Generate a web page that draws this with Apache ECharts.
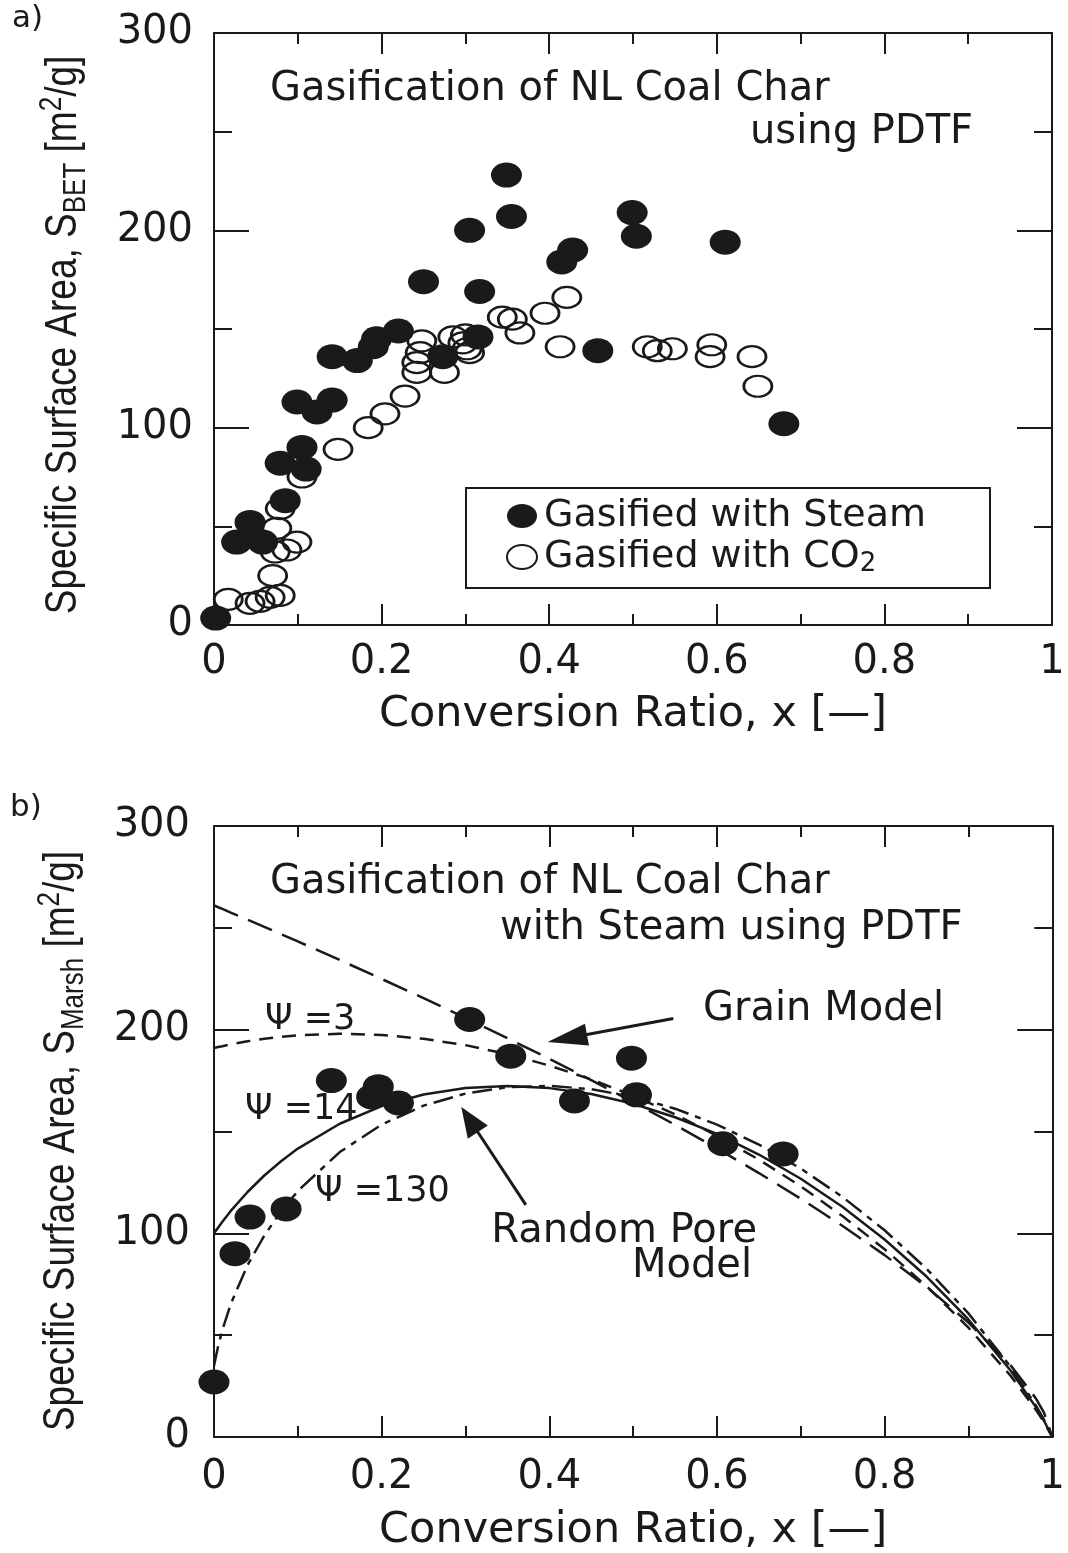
<!DOCTYPE html>
<html>
<head>
<meta charset="utf-8">
<script src="https://cdn.jsdelivr.net/npm/echarts@6/dist/echarts.min.js"></script>
<style>
  html, body { margin: 0; padding: 0; background: #ffffff; }
  #chart { width: 1068px; height: 1553px; }
</style>
</head>
<body>
<div id="chart"></div>
<script>
// ---- Panel a: BET surface area of NL coal char vs. conversion ----
const steamBET = [
  [0.002, 3.5], [0.027, 42], [0.043, 52], [0.058, 42], [0.079, 82], [0.085, 63],
  [0.099, 113], [0.105, 90], [0.11, 79], [0.123, 108], [0.141, 114], [0.141, 136],
  [0.171, 134], [0.19, 141], [0.194, 145], [0.22, 149], [0.25, 174], [0.273, 136],
  [0.305, 200], [0.315, 146], [0.317, 169], [0.349, 228], [0.355, 207], [0.415, 184],
  [0.428, 190], [0.458, 139], [0.499, 209], [0.504, 197], [0.61, 194], [0.68, 102]
];
const co2BET = [
  [0.017, 13], [0.043, 11], [0.055, 12], [0.067, 14], [0.079, 15], [0.07, 25],
  [0.073, 37], [0.087, 38], [0.099, 42], [0.075, 49], [0.079, 59], [0.105, 75],
  [0.148, 89], [0.184, 100], [0.204, 107], [0.228, 116], [0.242, 128], [0.242, 133],
  [0.246, 138], [0.248, 144], [0.275, 128], [0.285, 146], [0.297, 143], [0.302, 140],
  [0.305, 138], [0.3, 147], [0.344, 156], [0.356, 155], [0.365, 148], [0.395, 158],
  [0.421, 166], [0.413, 141], [0.517, 141], [0.529, 139], [0.547, 140], [0.594, 142],
  [0.592, 136], [0.642, 136], [0.649, 121]
];

// ---- Panel b: Marsh surface area with steam, and model curves ----
const steamMarsh = [
  [0, 27], [0.025, 90], [0.043, 108], [0.086, 112], [0.14, 175], [0.188, 167],
  [0.196, 172], [0.22, 164], [0.305, 205], [0.354, 187], [0.43, 165], [0.498, 186],
  [0.504, 168], [0.607, 144], [0.679, 139]
];
const modelX = [0, 0.005, 0.01, 0.02, 0.04, 0.06, 0.08, 0.1, 0.15, 0.2, 0.25, 0.3, 0.35,
  0.4, 0.45, 0.5, 0.55, 0.6, 0.65, 0.7, 0.75, 0.8, 0.85, 0.9, 0.95, 0.98, 0.99, 1];
const grainModel = [261, 260.1, 259.3, 257.5, 254.0, 250.5, 246.9, 243.3, 234.2, 224.9,
  215.5, 205.8, 195.8, 185.7, 175.2, 164.4, 153.3, 141.7, 129.6, 117.0, 103.6, 89.3,
  73.7, 56.2, 35.4, 19.2, 12.1, 0];
const rpmPsi3 = [191, 191.5, 191.9, 192.8, 194.3, 195.5, 196.5, 197.2, 198.0, 197.4,
  195.5, 192.4, 188.0, 182.4, 175.6, 167.6, 158.4, 147.9, 136.2, 123.1, 108.4, 92.2,
  74.1, 53.7, 30.2, 13.6, 7.4, 0];
const rpmPsi14 = [100, 102.9, 105.7, 111.0, 120.3, 128.4, 135.4, 141.6, 153.8, 162.5,
  168.2, 171.4, 172.4, 171.3, 168.4, 163.6, 157.0, 148.8, 138.7, 126.8, 112.9, 97.0,
  78.8, 57.7, 32.8, 14.9, 8.1, 0];
const rpmPsi130 = [35, 44.8, 52.6, 65.3, 84.4, 98.9, 110.8, 120.8, 139.9, 153.4,
  162.7, 168.6, 171.8, 172.4, 170.8, 167.0, 161.2, 153.4, 143.6, 131.8, 117.8, 101.5,
  82.6, 60.7, 34.6, 15.8, 8.6, 0];

// axis ranges
const xRange = [0, 1];
const xStep = 0.2;
const yRange = [0, 300];
const yStep = 100;

const INK = '#1a1a1a';
const SANS = 'DejaVu Sans';
const NARROW = 'Liberation Sans';
// stretched circle used for every data marker
const ELLIPSE = 'path://M0,10 A10,10 0 1,1 20,10 A10,10 0 1,1 0,10 Z';

function pair(xs, ys) { return xs.map((x, i) => [x, ys[i]]); }

function xAxisFor(grid, pos, labelMargin, nameGap) {
  const ax = {
    type: 'value', gridIndex: grid, position: pos,
    min: xRange[0], max: xRange[1], interval: xStep,
    axisLine: { onZero: false, lineStyle: { color: INK, width: 2 } },
    axisTick: { inside: true, length: 21, lineStyle: { color: INK, width: 2 } },
    minorTick: { show: true, splitNumber: 2, length: 11, lineStyle: { color: INK, width: 2 } },
    splitLine: { show: false },
    axisLabel: { show: pos === 'bottom', margin: labelMargin, fontFamily: SANS, fontSize: 40, color: INK }
  };
  if (pos === 'bottom') {
    ax.name = 'Conversion Ratio, x [\u2014]';
    ax.nameLocation = 'middle';
    ax.nameGap = nameGap;
    ax.nameTextStyle = { fontFamily: SANS, fontSize: 43, lineHeight: 43, color: INK };
  }
  return ax;
}

function yAxisFor(grid, pos, labelMargin) {
  return {
    type: 'value', gridIndex: grid, position: pos,
    min: yRange[0], max: yRange[1], interval: yStep,
    axisLine: { show: true, onZero: false, lineStyle: { color: INK, width: 2 } },
    axisTick: { show: true, inside: true, length: 35, lineStyle: { color: INK, width: 2 } },
    minorTick: { show: true, splitNumber: 2, length: 18, lineStyle: { color: INK, width: 2 } },
    splitLine: { show: false },
    axisLabel: { show: pos === 'left', margin: labelMargin, fontFamily: SANS, fontSize: 40, color: INK }
  };
}

const chart = echarts.init(document.getElementById('chart'), null, { renderer: 'canvas' });

const filledStyle = { color: INK, opacity: 1 };
const openStyle = { color: 'rgba(0,0,0,0)', borderColor: INK, borderWidth: 2.5, opacity: 1 };

chart.setOption({
  backgroundColor: '#ffffff',
  animation: false,
  grid: [
    { left: 214, top: 33, width: 838, height: 592 },
    { left: 214, top: 826, width: 845, height: 612 }
  ],
  xAxis: [
    xAxisFor(0, 'bottom', 18, 68),
    xAxisFor(0, 'top', 18, 0),
    xAxisFor(1, 'bottom', 21, 72),
    xAxisFor(1, 'top', 21, 0)
  ],
  yAxis: [
    yAxisFor(0, 'left', 21),
    yAxisFor(0, 'right', 21),
    yAxisFor(1, 'left', 24),
    yAxisFor(1, 'right', 24)
  ],
  legend: {
    data: ['Gasified with Steam', 'Gasified with CO\u2082'],
    orient: 'vertical',
    left: 466, top: 488,
    padding: [9, 64, 11, 40],
    itemWidth: 30, itemHeight: 24, itemGap: 3,
    symbolKeepAspect: false,
    borderColor: INK, borderWidth: 2, borderRadius: 0,
    selectedMode: false,
    formatter: function (name) {
      return name === 'Gasified with Steam' ? '{t|' + name + '}' : '{t|Gasified with CO}{s|2}';
    },
    textStyle: {
      color: INK, padding: [0, 0, 0, 2],
      rich: {
        t: { fontFamily: SANS, fontSize: 38, lineHeight: 40, color: INK },
        s: { fontFamily: SANS, fontSize: 26, lineHeight: 22, verticalAlign: 'bottom', color: INK }
      }
    }
  },
  series: [
    {
      name: 'Gasified with Steam', type: 'scatter', xAxisIndex: 0, yAxisIndex: 0,
      symbol: ELLIPSE, symbolSize: [31, 25], symbolKeepAspect: false,
      itemStyle: filledStyle, data: steamBET, z: 3
    },
    {
      name: 'Gasified with CO\u2082', type: 'scatter', xAxisIndex: 0, yAxisIndex: 0,
      symbol: ELLIPSE, symbolSize: [28, 21], symbolKeepAspect: false,
      itemStyle: openStyle, data: co2BET, z: 4
    },
    {
      name: 'Grain Model', type: 'line', xAxisIndex: 2, yAxisIndex: 2,
      showSymbol: false, symbol: 'none', smooth: false,
      lineStyle: { color: INK, width: 2.5, type: [26, 11] }, data: pair(modelX, grainModel)
    },
    {
      name: 'Random Pore Model \u03a8=3', type: 'line', xAxisIndex: 2, yAxisIndex: 2,
      showSymbol: false, symbol: 'none', smooth: false,
      lineStyle: { color: INK, width: 2.5, type: [14, 9] }, data: pair(modelX, rpmPsi3)
    },
    {
      name: 'Random Pore Model \u03a8=14', type: 'line', xAxisIndex: 2, yAxisIndex: 2,
      showSymbol: false, symbol: 'none', smooth: false,
      lineStyle: { color: INK, width: 2.5, type: 'solid' }, data: pair(modelX, rpmPsi14)
    },
    {
      name: 'Random Pore Model \u03a8=130', type: 'line', xAxisIndex: 2, yAxisIndex: 2,
      showSymbol: false, symbol: 'none', smooth: false,
      lineStyle: { color: INK, width: 2.5, type: [20, 7, 6, 7] }, data: pair(modelX, rpmPsi130)
    },
    {
      name: 'Steam (Marsh)', type: 'scatter', xAxisIndex: 2, yAxisIndex: 2,
      symbol: ELLIPSE, symbolSize: [31, 25], symbolKeepAspect: false,
      itemStyle: filledStyle, data: steamMarsh, z: 5
    }
  ]
});

// ---- annotations ----
function label(text, x, y, size, align, family) {
  return {
    type: 'text', x: x, y: y, z: 10,
    style: {
      text: text, fill: INK, align: align || 'left', verticalAlign: 'middle',
      font: size + 'px "' + (family || SANS) + '"'
    }
  };
}

// vertical axis title with subscript and superscript, drawn with tall narrow glyphs
function yTitle(sub, cx, cy) {
  return {
    type: 'text', x: cx, y: cy, rotation: Math.PI / 2, scaleY: 1.2, z: 10,
    style: {
      text: '{r|Specific Surface Area, S}{b|' + sub + '}{r| [m}{p|2}{r|/g]}',
      align: 'center', verticalAlign: 'middle', fill: INK,
      rich: {
        r: { fontFamily: NARROW, fontSize: 37, lineHeight: 46, fill: INK },
        b: { fontFamily: NARROW, fontSize: 26, lineHeight: 26, verticalAlign: 'bottom', fill: INK },
        p: { fontFamily: NARROW, fontSize: 26, lineHeight: 24, verticalAlign: 'top', fill: INK }
      }
    }
  };
}

// arrow pointing at a model curve, positioned in data space of panel b
function arrow(tail, tip, headLen, headWidth) {
  const p0 = chart.convertToPixel({ gridIndex: 1 }, tail);
  const p1 = chart.convertToPixel({ gridIndex: 1 }, tip);
  const dx = p1[0] - p0[0], dy = p1[1] - p0[1];
  const len = Math.sqrt(dx * dx + dy * dy);
  const ux = dx / len, uy = dy / len;
  const bx = p1[0] - ux * headLen, by = p1[1] - uy * headLen;
  const nx = -uy * headWidth / 2, ny = ux * headWidth / 2;
  return [
    { type: 'line', z: 10, shape: { x1: p0[0], y1: p0[1], x2: bx + ux * 4, y2: by + uy * 4 },
      style: { stroke: INK, lineWidth: 3 } },
    { type: 'polygon', z: 10, shape: { points: [[p1[0], p1[1]], [bx + nx, by + ny], [bx - nx, by - ny]] },
      style: { fill: INK } }
  ];
}

const notes = [
  label('a)', 12, 19, 31),
  label('b)', 10, 808, 31),
  yTitle('BET', 64, 335),
  yTitle('Marsh', 62, 1141),
  label('Gasification of NL Coal Char', 270, 90, 40),
  label('using PDTF', 750, 133, 40),
  label('Gasification of NL Coal Char', 270, 883, 40),
  label('with Steam using PDTF', 500, 929, 40),
  label('Grain Model', 703, 1010, 40),
  label('Random Pore', 757, 1232, 40, 'right'),
  label('Model', 752, 1267, 40, 'right'),
  label('\u03a8 =3', 265, 1020, 35),
  label('\u03a8 =14', 245, 1110, 35),
  label('\u03a8 =130', 315, 1192, 35)
].concat(
  arrow([0.548, 205.5], [0.398, 194], 40, 22),
  arrow([0.372, 114], [0.295, 162], 30, 24)
);

chart.setOption({ graphic: { elements: notes } });
</script>
</body>
</html>
